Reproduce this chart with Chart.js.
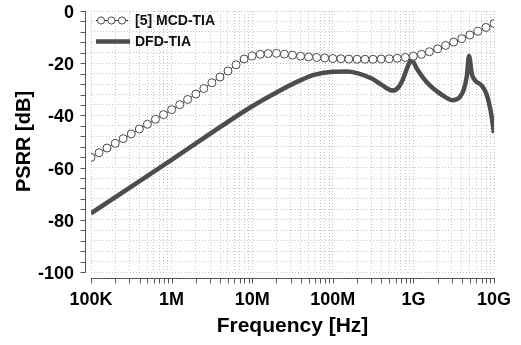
<!DOCTYPE html>
<html>
<head>
<meta charset="utf-8">
<script src="https://cdn.jsdelivr.net/npm/chart.js@4.4.1/dist/chart.umd.min.js"></script>
<style>
  html, body { margin: 0; padding: 0; background: #fff; }
</style>
</head>
<body>
<canvas id="psrrChart" width="521" height="345"></canvas>
<script>
const decadeTicks = [1e5, 1e6, 1e7, 1e8, 1e9, 1e10];
const decadeLabels = ["100K", "1M", "10M", "100M", "1G", "10G"];
const yLabelValues = [0, -20, -40, -60, -80, -100];

// [5] MCD-TIA, read every 0.1 decade
const mcdFreq = [
  1e5, 1.26e5, 1.58e5, 2e5, 2.51e5, 3.16e5, 3.98e5, 5.01e5, 6.31e5, 7.94e5,
  1e6, 1.26e6, 1.58e6, 2e6, 2.51e6, 3.16e6, 3.98e6, 5.01e6, 6.31e6, 7.94e6,
  1e7, 1.26e7, 1.58e7, 2e7, 2.51e7, 3.16e7, 3.98e7, 5.01e7, 6.31e7, 7.94e7,
  1e8, 1.26e8, 1.58e8, 2e8, 2.51e8, 3.16e8, 3.98e8, 5.01e8, 6.31e8, 7.94e8,
  1e9, 1.26e9, 1.58e9, 2e9, 2.51e9, 3.16e9, 3.98e9, 5.01e9, 6.31e9, 7.94e9,
  1e10
];
const mcdPsrr = [
  -56.1, -54.3, -52.5, -50.7, -48.9, -47.1, -45.2, -43.4, -41.5, -39.7,
  -37.8, -35.9, -33.9, -31.8, -29.7, -27.5, -25.3, -23.0, -20.6, -18.4,
  -17.2, -16.6, -16.3, -16.2, -16.5, -16.9, -17.3, -17.6, -17.8, -18.0,
  -18.2, -18.3, -18.4, -18.5, -18.5, -18.5, -18.4, -18.3, -18.1, -17.8,
  -17.3, -16.6, -15.6, -14.5, -13.2, -11.9, -10.6, -9.2, -7.8, -6.3,
  -4.8
];

// DFD-TIA
const dfdFreq = [
  1e5, 1e6, 1e7, 2e7, 4e7, 6e7, 1e8, 1.5e8, 2e8, 3e8, 4e8, 5.5e8, 6.5e8,
  7.5e8, 8.5e8, 9.5e8, 1.1e9, 1.3e9, 1.6e9, 2e9, 2.5e9, 3e9, 3.5e9, 3.8e9,
  4.2e9, 4.6e9, 4.9e9, 5.3e9, 5.8e9, 7e9, 8e9, 9e9, 1e10
];
const dfdPsrr = [
  -77.5, -57.0, -36.5, -31.2, -26.5, -24.4, -23.3, -23.2, -23.8, -25.8, -28.2, -30.5, -29.3,
  -25.8, -21.3, -18.8, -22.0, -25.3, -28.5, -31.0, -33.0, -34.2, -33.7, -32.8,
  -30.3, -25.0, -17.2, -24.0, -26.5, -28.5, -31.5, -37.5, -46.7
];

const boldFont = (size) => ({ family: "'Liberation Sans', Arial, sans-serif", size: size, weight: "bold" });

// log grid: 1..9 per decade
const xGridTicks = [];
for (let e = 5; e < 10; e++) {
  for (let m = 1; m <= 9; m++) xGridTicks.push(m * Math.pow(10, e));
}
xGridTicks.push(1e10);

// axis lines sit a few px outside the plot area, like the original
const offsetAxes = {
  id: "offsetAxes",
  afterDraw(chart) {
    const { ctx, chartArea, scales } = chart;
    const axisX = Math.round(chartArea.left - 6) + 0.5;
    const axisY = Math.round(chartArea.bottom + 6) + 0.5;
    ctx.save();
    ctx.strokeStyle = "#555";
    ctx.lineWidth = 1;
    ctx.beginPath();
    ctx.moveTo(axisX, chartArea.top);
    ctx.lineTo(axisX, chartArea.bottom + 1);
    scales.y.ticks.forEach((t) => {
      const y = Math.round(scales.y.getPixelForValue(t.value)) + 0.5;
      ctx.moveTo(axisX - 5, y);
      ctx.lineTo(axisX, y);
    });
    ctx.moveTo(chartArea.left, axisY);
    ctx.lineTo(chartArea.right + 1, axisY);
    scales.x.ticks.forEach((t) => {
      const x = Math.round(scales.x.getPixelForValue(t.value)) + 0.5;
      ctx.moveTo(x, axisY);
      ctx.lineTo(x, axisY + 5);
    });
    ctx.stroke();
    ctx.restore();
  }
};

const legendBox = {
  id: "legendBox",
  afterDatasetsDraw(chart) {
    const ctx = chart.ctx;
    const mcd = chart.data.datasets[0];
    const dfd = chart.data.datasets[1];
    ctx.save();
    // MCD entry
    ctx.strokeStyle = mcd.borderColor;
    ctx.lineWidth = 1;
    ctx.beginPath();
    ctx.moveTo(96, 20.5);
    ctx.lineTo(128, 20.5);
    ctx.stroke();
    [101, 111.5, 122].forEach((cx) => {
      ctx.beginPath();
      ctx.arc(cx, 20.5, 3.6, 0, Math.PI * 2);
      ctx.fillStyle = "#fff";
      ctx.fill();
      ctx.strokeStyle = mcd.pointBorderColor;
      ctx.stroke();
    });
    // DFD entry
    ctx.strokeStyle = dfd.borderColor;
    ctx.lineWidth = dfd.borderWidth;
    ctx.beginPath();
    ctx.moveTo(96, 41.5);
    ctx.lineTo(130, 41.5);
    ctx.stroke();

    ctx.fillStyle = "#111";
    ctx.font = "bold 14px 'Liberation Sans', Arial, sans-serif";
    ctx.textBaseline = "middle";
    ctx.fillText(mcd.label, 135, 21);
    ctx.fillText(dfd.label, 135, 42);
    ctx.restore();
  }
};

new Chart(document.getElementById("psrrChart"), {
  type: "line",
  data: {
    datasets: [
      {
        label: "[5] MCD-TIA",
        data: mcdFreq.map((f, i) => ({ x: f, y: mcdPsrr[i] })),
        borderColor: "#2b2b2b",
        borderWidth: 1,
        pointRadius: 4,
        pointBackgroundColor: "#fff",
        pointBorderColor: "#4a4a4a",
        pointBorderWidth: 1,
        tension: 0,
        order: 1
      },
      {
        label: "DFD-TIA",
        data: dfdFreq.map((f, i) => ({ x: f, y: dfdPsrr[i] })),
        borderColor: "#4d4d4d",
        borderWidth: 4.5,
        pointRadius: 0,
        cubicInterpolationMode: "monotone",
        order: 2
      }
    ]
  },
  options: {
    responsive: false,
    animation: false,
    layout: { padding: { left: 12, right: 27, top: 11, bottom: 2 } },
    plugins: {
      legend: { display: false },
      tooltip: { enabled: false }
    },
    scales: {
      x: {
        type: "logarithmic",
        min: 1e5,
        max: 1e10,
        afterBuildTicks: (scale) => {
          scale.ticks = xGridTicks.map((v) => ({ value: v }));
        },
        afterFit: (scale) => {
          scale.height = 71;
          scale.paddingLeft = 0;
          scale.paddingRight = 0;
        },
        grid: { color: "#c4c4c4", lineWidth: 1, drawTicks: false },
        border: { display: false, dash: [1, 2] },
        ticks: {
          autoSkip: false,
          maxRotation: 0,
          padding: 17,
          color: "#000",
          font: boldFont(18),
          callback: (v) => {
            const i = decadeTicks.indexOf(v);
            return i >= 0 ? decadeLabels[i] : "";
          }
        },
        title: {
          display: true,
          text: "Frequency [Hz]",
          color: "#000",
          font: boldFont(21),
          padding: { top: 0, bottom: 4 }
        }
      },
      y: {
        min: -100,
        max: 0,
        afterFit: (scale) => {
          scale.width = 79;
          scale.paddingTop = 0;
          scale.paddingBottom = 0;
        },
        grid: { color: "#c4c4c4", lineWidth: 1, drawTicks: false },
        border: { display: false, dash: [1, 2] },
        ticks: {
          stepSize: 4,
          maxTicksLimit: 40,
          autoSkip: false,
          padding: 17,
          labelOffset: 2,
          color: "#000",
          font: boldFont(18),
          callback: (v) => (yLabelValues.includes(Math.round(v)) ? String(Math.round(v)) : "")
        },
        title: {
          display: true,
          text: "PSRR [dB]",
          color: "#000",
          font: boldFont(20),
          padding: { top: 0, bottom: 0 }
        }
      }
    }
  },
  plugins: [offsetAxes, legendBox]
});
</script>
</body>
</html>
